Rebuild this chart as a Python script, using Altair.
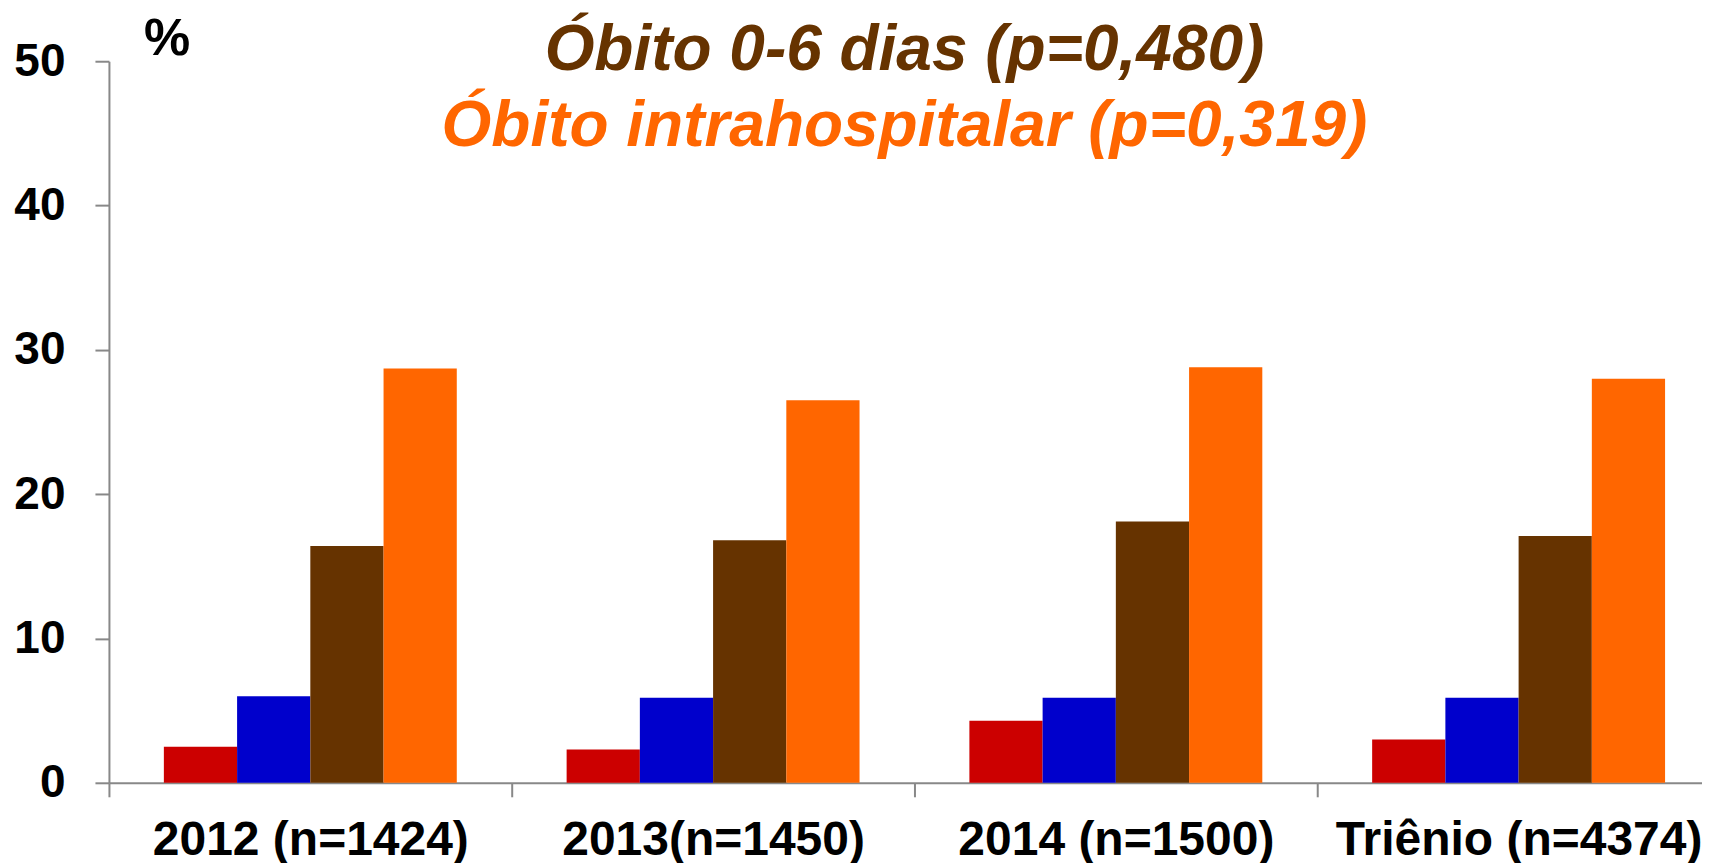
import altair as alt
import pandas as pd

# ---- data ----
categorias = ["2012 (n=1424)", "2013(n=1450)", "2014 (n=1500)", "Triênio (n=4374)"]
series = ["Óbito sala de parto", "Óbito < 24 horas", "Óbito 0-6 dias", "Óbito intrahospitalar"]
cores = ["#CC0000", "#0000CC", "#663300", "#FF6600"]
valores_vermelho = [2.5, 2.3, 4.3, 3.0]
valores_azul = [6.0, 5.9, 5.9, 5.9]
valores_marrom = [16.4, 16.8, 18.1, 17.1]
valores_laranja = [28.7, 26.5, 28.8, 28.0]
y_ticks = [0, 10, 20, 30, 40, 50]

titulo_linhas = ["Óbito < 24 horas (p=0,910)", "Óbito 0-6 dias (p=0,480)", "Óbito intrahospitalar (p=0,319)"]
titulo_cores = ["#0000CC", "#663300", "#FF6600"]
titulo_y = [-67, 9, 85]

FONT = "Liberation Sans, Arial, sans-serif"

rows = []
for s, vals in zip(series, [valores_vermelho, valores_azul, valores_marrom, valores_laranja]):
    for c, v in zip(categorias, vals):
        rows.append({"categoria": c, "serie": s, "valor": v})
df = pd.DataFrame(rows)

bars = alt.Chart(df).mark_bar().encode(
    x=alt.X(
        "categoria:N",
        sort=categorias,
        scale=alt.Scale(paddingInner=0, paddingOuter=0, range=[0, 1612]),
        axis=alt.Axis(
            title=None, labelAngle=0, tickBand="extent", tickSize=14, tickWidth=2,
            tickColor="#888888", domainColor="#888888", domainWidth=2,
            labelFont=FONT, labelFontSize=48, labelFontWeight="bold", labelColor="#000000",
            labelPadding=20, labelLimit=0, labelOverlap=False, grid=False,
        ),
    ),
    xOffset=alt.XOffset("serie:N", sort=series, scale=alt.Scale(paddingInner=0, paddingOuter=0.75)),
    y=alt.Y(
        "valor:Q",
        scale=alt.Scale(domain=[0, 50], nice=False),
        axis=alt.Axis(
            title=None, values=y_ticks, tickSize=14, tickWidth=2, tickColor="#888888",
            domainColor="#888888", domainWidth=2, labelFont=FONT, labelFontSize=46,
            labelFontWeight="bold", labelColor="#000000", labelPadding=30, grid=False,
        ),
    ),
    color=alt.Color("serie:N", sort=series, scale=alt.Scale(domain=series, range=cores), legend=None),
)

df_titulo = pd.DataFrame({"linha": titulo_linhas, "cor": titulo_cores, "y": titulo_y})
titulos = alt.Chart(df_titulo).mark_text(
    font=FONT, fontSize=64, fontWeight="bold", fontStyle="italic", align="center", baseline="alphabetic"
).encode(
    x=alt.value(796),
    y=alt.Y("y:Q", scale=None),
    text="linha:N",
    color=alt.Color("cor:N", scale=None),
)

df_pct = pd.DataFrame({"t": ["%"]})
pct = alt.Chart(df_pct).mark_text(
    font=FONT, fontSize=52, fontWeight="bold", align="left", baseline="alphabetic", color="#000000"
).encode(x=alt.value(35), y=alt.value(-6), text="t:N")

chart = alt.layer(bars, titulos, pct).properties(
    width=1594,
    height=722,
    autosize=alt.AutoSizeParams(type="none"),
    padding={"left": 101, "top": 53, "right": 0, "bottom": 80},
    background="#FFFFFF",
).configure_view(stroke=None)

chart.save("out.html", embed_options={"renderer": "svg", "actions": False})
